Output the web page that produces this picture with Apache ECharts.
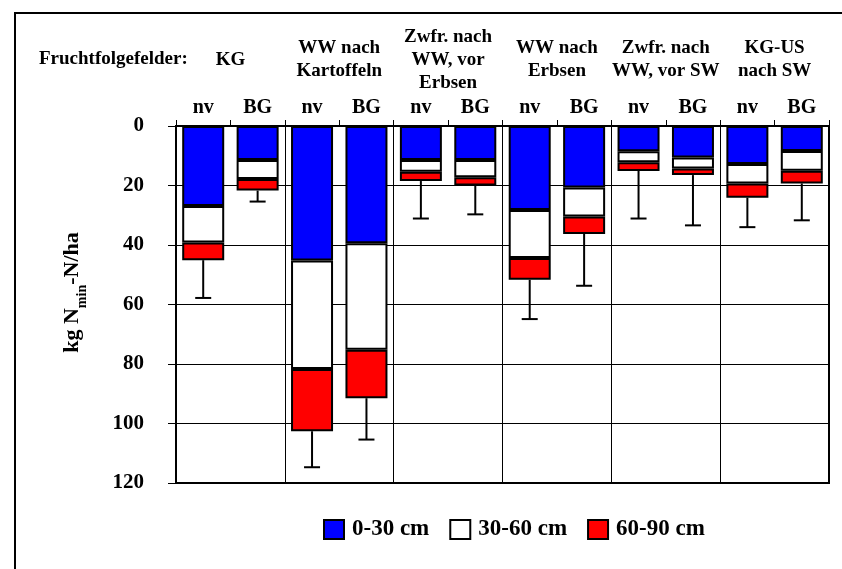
<!DOCTYPE html>
<html>
<head>
<meta charset="utf-8">
<script src="https://cdn.jsdelivr.net/npm/echarts@6/dist/echarts.min.js"></script>
<style>
  html, body { margin: 0; padding: 0; background: #fff; }
  #chart { width: 842px; height: 569px; }
</style>
</head>
<body>
<div id="chart"></div>
<script>
// Fruchtfolgefelder (groups) and treatments per group
const groups = ['KG', 'WW nach\nKartoffeln', 'Zwfr. nach\nWW, vor\nErbsen', 'WW nach\nErbsen', 'Zwfr. nach\nWW, vor SW', 'KG-US\nnach SW'];
const categories = ['nv', 'BG', 'nv', 'BG', 'nv', 'BG', 'nv', 'BG', 'nv', 'BG', 'nv', 'BG'];

// Nmin per soil layer (kg N/ha)
const layer0_30 = [26.9, 11.4, 45.2, 39.4, 11.4, 11.4, 28.2, 20.7, 8.5, 10.6, 12.8, 8.4];
const layer30_60 = [12.3, 6.4, 36.5, 35.8, 4.0, 5.8, 16.2, 9.7, 3.7, 3.7, 6.5, 6.6];
const layer60_90 = [5.9, 3.9, 20.9, 16.3, 3.1, 2.8, 7.3, 5.9, 2.9, 2.2, 4.8, 4.3];
// standard deviation of the sum (0-90 cm)
const stdDev = [12.7, 3.7, 12.1, 13.9, 12.6, 9.7, 13.2, 17.4, 16.0, 16.9, 9.9, 12.4];

const yTicks = { min: 0, max: 120, interval: 20 };

const font = 'Liberation Serif';

let errData = [];
for (let i = 0; i < categories.length; i++) {
    let total = layer0_30[i] + layer30_60[i] + layer60_90[i];
    errData.push([i, total, total + stdDev[i]]);
}

const barStyle = function (color) {
    return { color: color, borderColor: '#000', borderWidth: 2 };
};

let myChart = echarts.init(document.getElementById('chart'));
myChart.setOption({
    animation: false,
    grid: {
        left: 176, top: 126, width: 653, height: 357,
        show: true, borderColor: '#000', borderWidth: 2
    },
    xAxis: [
        {
            type: 'category',
            position: 'top',
            data: categories,
            axisLine: { show: true, lineStyle: { color: '#000', width: 1 } },
            axisTick: { show: true, length: 6, interval: 0, lineStyle: { color: '#000' } },
            axisLabel: {
                margin: 18, verticalAlign: 'middle', interval: 0,
                fontFamily: font, fontWeight: 'bold', fontSize: 20, color: '#000'
            },
            splitLine: { show: false }
        },
        {
            type: 'category',
            position: 'top',
            data: groups,
            axisLine: { show: false },
            axisTick: { show: false },
            axisLabel: {
                margin: 66, verticalAlign: 'middle', lineHeight: 23, interval: 0,
                fontFamily: font, fontWeight: 'bold', fontSize: 19, color: '#000'
            },
            splitLine: { show: true, interval: 0, lineStyle: { color: '#000', width: 1 } }
        }
    ],
    yAxis: {
        type: 'value',
        inverse: true,
        min: yTicks.min,
        max: yTicks.max,
        interval: yTicks.interval,
        axisLine: { show: true, lineStyle: { color: '#000', width: 2 } },
        axisTick: { show: true, length: 8, lineStyle: { color: '#000' } },
        axisLabel: {
            margin: 32,
            fontFamily: font, fontWeight: 'bold', fontSize: 21, color: '#000'
        },
        splitLine: { show: true, lineStyle: { color: '#000', width: 1 } },
        name: '{a|kg N}{s|min}{a|-N/ha}',
        nameLocation: 'middle',
        nameGap: 91,
        nameTextStyle: {
            padding: [0, 0, 0, 24],
            rich: {
                a: { fontFamily: font, fontWeight: 'bold', fontSize: 22, color: '#000', lineHeight: 24, verticalAlign: 'top' },
                s: { fontFamily: font, fontWeight: 'bold', fontSize: 14, color: '#000', lineHeight: 14, padding: [14, 0, 0, 0], verticalAlign: 'top' }
            }
        }
    },
    legend: {
        data: ['0-30 cm', '30-60 cm', '60-90 cm'],
        icon: 'rect',
        left: 318, top: 513,
        itemWidth: 20, itemHeight: 19, itemGap: 20,
        textStyle: { fontFamily: font, fontWeight: 'bold', fontSize: 23, color: '#000', padding: [0, 0, 0, 3] }
    },
    series: [
        {
            name: '0-30 cm', type: 'bar', stack: 'n', data: layer0_30,
            barWidth: 42, itemStyle: barStyle('#0000ff')
        },
        {
            name: '30-60 cm', type: 'bar', stack: 'n', data: layer30_60,
            barWidth: 42, itemStyle: barStyle('#ffffff')
        },
        {
            name: '60-90 cm', type: 'bar', stack: 'n', data: layer60_90,
            barWidth: 42, itemStyle: barStyle('#ff0000')
        },
        {
            name: 'sd', type: 'custom', data: errData, z: 5,
            encode: { x: 0, y: [1, 2] },
            renderItem: function (params, api) {
                let top = api.coord([api.value(0), api.value(1)]);
                let end = api.coord([api.value(0), api.value(2)]);
                let cap = 8;
                return {
                    type: 'group',
                    children: [
                        { type: 'line', shape: { x1: top[0], y1: top[1], x2: end[0], y2: end[1] }, style: { stroke: '#000', lineWidth: 2 } },
                        { type: 'line', shape: { x1: end[0] - cap, y1: end[1], x2: end[0] + cap, y2: end[1] }, style: { stroke: '#000', lineWidth: 2 } }
                    ]
                };
            }
        }
    ],
    graphic: [
        {
            type: 'rect', shape: { x: 15, y: 13, width: 900, height: 600 },
            style: { fill: 'none', stroke: '#000', lineWidth: 2 }, silent: true
        },
        {
            type: 'text', left: 39, top: 50,
            style: { text: 'Fruchtfolgefelder:', fontFamily: font, fontWeight: 'bold', fontSize: 19, fill: '#000' }
        }
    ]
});
</script>
</body>
</html>
